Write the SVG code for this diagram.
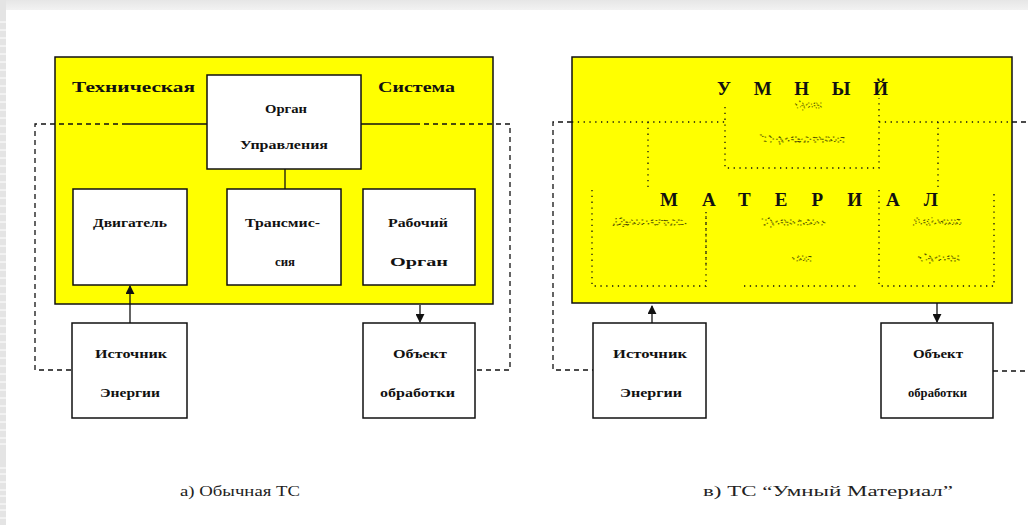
<svg xmlns="http://www.w3.org/2000/svg" width="1028" height="525" viewBox="0 0 1028 525">
<defs>
<style>
.t{font-family:"Liberation Serif","Times New Roman",serif;font-size:13px;font-weight:bold;fill:#111}
.big{font-family:"Liberation Serif","Times New Roman",serif;font-size:19px;font-weight:bold;fill:#111}
.ghost{font-family:"Liberation Serif","Times New Roman",serif;font-size:10px;fill:none;stroke:#000;stroke-width:0.9;stroke-dasharray:1 4.5;opacity:0.7}
.cap{font-family:"Liberation Serif","Times New Roman",serif;font-size:15px;fill:#222}
.box{fill:#fff;stroke:#111;stroke-width:1.5}
.yel{fill:#ffff00;stroke:#111;stroke-width:1.5}
.dash{fill:none;stroke:#111;stroke-width:1.3;stroke-dasharray:5 4}
.dot{fill:none;stroke:#111;stroke-width:1.3;stroke-dasharray:1.3 4.5}
.solid{fill:none;stroke:#111;stroke-width:1.3}
</style>
<marker id="ah" viewBox="0 0 10 10" refX="9" refY="5" markerWidth="9" markerHeight="9" orient="auto" markerUnits="userSpaceOnUse">
<path d="M0,0 L10,5 L0,10 z" fill="#111"/>
</marker>
<linearGradient id="topg" x1="0" y1="0" x2="0" y2="1">
<stop offset="0" stop-color="#e6e6e6"/><stop offset="1" stop-color="#f2f2f2"/>
</linearGradient>
</defs>
<rect width="1028" height="525" fill="#fff"/>
<rect x="0" y="0" width="1028" height="10" fill="url(#topg)"/>
<rect x="0" y="0" width="6" height="525" fill="#e4e4e4"/>
<g stroke="#fff" stroke-width="1">
<path d="M0,22H6M0,30H6M0,38H6M0,46H6M0,54H6M0,62H6M0,70H6M0,78H6M0,86H6M0,94H6M0,102H6M0,110H6M0,118H6M0,126H6M0,134H6M0,142H6M0,150H6M0,158H6M0,166H6M0,174H6M0,182H6M0,190H6M0,198H6M0,206H6M0,214H6M0,222H6M0,230H6M0,238H6M0,246H6M0,254H6M0,262H6M0,270H6M0,278H6M0,286H6M0,294H6M0,302H6M0,310H6M0,318H6M0,326H6M0,334H6M0,342H6M0,350H6M0,358H6M0,366H6M0,374H6M0,382H6M0,390H6M0,398H6M0,406H6M0,414H6M0,422H6M0,430H6M0,438H6M0,444H6M0,468H6M0,474H6M0,482H6M0,490H6M0,496H6M0,504H6M0,510H6M0,518H6"/>
</g>

<!-- LEFT PANEL -->
<rect id="ts-left" class="yel" x="55" y="57" width="438" height="247"/>
<text class="t" x="72" y="92" textLength="123" lengthAdjust="spacingAndGlyphs" style="font-size:15px">Техническая</text>
<text class="t" x="378" y="92" textLength="77" lengthAdjust="spacingAndGlyphs" style="font-size:15px">Система</text>

<g id="connectors-left">
<path class="dash" d="M127,124 H35 V370 H72"/>
<path class="solid" d="M127,124 H207"/>
<path class="solid" d="M361,124 H415"/>
<path class="dash" d="M415,124 H510 V370 H475"/>
<path class="solid" d="M285,169 V189"/>
<path class="solid" d="M130,323 V286" marker-end="url(#ah)"/>
<path class="solid" d="M420,305 V322" marker-end="url(#ah)"/>
</g>

<g id="organ-upr">
<rect class="box" x="207" y="75" width="154" height="94"/>
<text class="t" x="265" y="113" textLength="42" lengthAdjust="spacingAndGlyphs">Орган</text>
<text class="t" x="240" y="149" textLength="88" lengthAdjust="spacingAndGlyphs">Управления</text>
</g>
<g id="dvigatel">
<rect class="box" x="73" y="189" width="114" height="96"/>
<text class="t" x="93" y="227" textLength="74" lengthAdjust="spacingAndGlyphs">Двигатель</text>
</g>
<g id="transmissia">
<rect class="box" x="227" y="189" width="114" height="96"/>
<text class="t" x="245" y="227" textLength="75" lengthAdjust="spacingAndGlyphs">Трансмис-</text>
<text class="t" x="275" y="266" textLength="20" lengthAdjust="spacingAndGlyphs">сия</text>
</g>
<g id="rab-organ">
<rect class="box" x="363" y="189" width="112" height="96"/>
<text class="t" x="388" y="227" textLength="60" lengthAdjust="spacingAndGlyphs">Рабочий</text>
<text class="t" x="390" y="266" textLength="58" lengthAdjust="spacingAndGlyphs">Орган</text>
</g>
<g id="istochnik-left">
<rect class="box" x="72" y="323" width="115" height="95"/>
<text class="t" x="95" y="358" textLength="72" lengthAdjust="spacingAndGlyphs">Источник</text>
<text class="t" x="100" y="397" textLength="60" lengthAdjust="spacingAndGlyphs">Энергии</text>
</g>
<g id="obekt-left">
<rect class="box" x="363" y="323" width="112" height="95"/>
<text class="t" x="393" y="358" textLength="54" lengthAdjust="spacingAndGlyphs">Объект</text>
<text class="t" x="380" y="397" textLength="75" lengthAdjust="spacingAndGlyphs">обработки</text>
</g>

<!-- RIGHT PANEL -->
<rect id="ts-right" class="yel" x="572" y="57" width="440" height="246"/>
<g id="connectors-right">
<path class="dash" d="M572,122 H553 V370 H593"/>
<path class="dot" d="M572,122 H725"/>
<path class="dot" d="M879,122 H1012"/>
<path class="dash" d="M1012,122 H1028"/>
<path class="dash" d="M993,371 H1028"/>
<path class="dot" d="M725,107 V168 H879 V98"/>
<path class="dot" d="M648,122 V187"/>
<path class="dot" d="M938,122 V187"/>
<path class="dot" d="M592,190 V286 H706 V212"/>
<path class="dot" d="M706,212 V270"/>
<path class="dot" d="M744,286 H860"/>
<path class="dot" d="M879,190 V286 H994 V190"/>
<path class="solid" d="M652,323 V306" marker-end="url(#ah)"/>
<path class="solid" d="M937,303 V322" marker-end="url(#ah)"/>
</g>
<text class="big" x="717" y="95" textLength="171" lengthAdjust="spacing">УМНЫЙ</text>
<text class="big" x="660" y="206" textLength="278" lengthAdjust="spacing">МАТЕРИАЛ</text>
<text class="ghost" x="795" y="108" textLength="27" lengthAdjust="spacingAndGlyphs">Орган</text>
<text class="ghost" x="760" y="142" textLength="85" lengthAdjust="spacingAndGlyphs">Управления</text>
<text class="ghost" x="612" y="225" textLength="74" lengthAdjust="spacingAndGlyphs">Двигатель</text>
<text class="ghost" x="762" y="225" textLength="66" lengthAdjust="spacingAndGlyphs">Трансмис-</text>
<text class="ghost" x="913" y="225" textLength="49" lengthAdjust="spacingAndGlyphs">Рабочий</text>
<text class="ghost" x="792" y="261" textLength="20" lengthAdjust="spacingAndGlyphs">сия</text>
<text class="ghost" x="918" y="261" textLength="42" lengthAdjust="spacingAndGlyphs">Орган</text>

<g id="istochnik-right">
<rect class="box" x="593" y="323" width="113" height="95"/>
<text class="t" x="613" y="358" textLength="74" lengthAdjust="spacingAndGlyphs">Источник</text>
<text class="t" x="620" y="397" textLength="62" lengthAdjust="spacingAndGlyphs">Энергии</text>
</g>
<g id="obekt-right">
<rect class="box" x="881" y="323" width="112" height="95"/>
<text class="t" x="913" y="358" textLength="50" lengthAdjust="spacingAndGlyphs">Объект</text>
<text class="t" x="908" y="397" textLength="59" lengthAdjust="spacingAndGlyphs">обработки</text>
</g>

<text class="cap" x="180" y="496" textLength="120" lengthAdjust="spacingAndGlyphs">а) Обычная ТС</text>
<text class="cap" x="703" y="496" textLength="250" lengthAdjust="spacingAndGlyphs">в) ТС “Умный Материал”</text>
</svg>
